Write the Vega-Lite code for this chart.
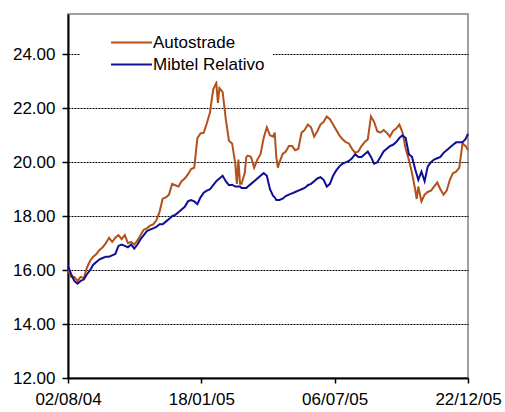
{
  "$schema": "https://vega.github.io/schema/vega-lite/v6.json",
  "width": 400,
  "height": 364,
  "autosize": {"type": "none"},
  "padding": {"left": 68, "top": 14, "right": 37, "bottom": 34},
  "config": {
    "view": {"stroke": "#a0a0a0", "strokeWidth": 2},
    "font": "Liberation Sans"
  },
  "data": {
    "values": [
      {"date": "2004/08/02", "Autostrade": 16.0, "Mibtel Relativo": 16.15},
      {"date": "2004/08/06", "Autostrade": 15.75, "Mibtel Relativo": 15.85},
      {"date": "2004/08/10", "Autostrade": 15.75, "Mibtel Relativo": 15.6},
      {"date": "2004/08/14", "Autostrade": 15.6, "Mibtel Relativo": 15.5},
      {"date": "2004/08/18", "Autostrade": 15.75, "Mibtel Relativo": 15.6},
      {"date": "2004/08/22", "Autostrade": 15.7, "Mibtel Relativo": 15.65},
      {"date": "2004/08/26", "Autostrade": 16.1, "Mibtel Relativo": 15.85},
      {"date": "2004/08/30", "Autostrade": 16.35, "Mibtel Relativo": 16.0},
      {"date": "2004/09/03", "Autostrade": 16.5, "Mibtel Relativo": 16.2},
      {"date": "2004/09/07", "Autostrade": 16.6, "Mibtel Relativo": 16.3},
      {"date": "2004/09/11", "Autostrade": 16.75, "Mibtel Relativo": 16.4},
      {"date": "2004/09/15", "Autostrade": 16.85, "Mibtel Relativo": 16.45},
      {"date": "2004/09/19", "Autostrade": 17.0, "Mibtel Relativo": 16.5},
      {"date": "2004/09/23", "Autostrade": 17.2, "Mibtel Relativo": 16.5},
      {"date": "2004/09/27", "Autostrade": 17.05, "Mibtel Relativo": 16.55},
      {"date": "2004/10/01", "Autostrade": 17.2, "Mibtel Relativo": 16.6},
      {"date": "2004/10/05", "Autostrade": 17.3, "Mibtel Relativo": 16.9},
      {"date": "2004/10/09", "Autostrade": 17.15, "Mibtel Relativo": 16.95},
      {"date": "2004/10/13", "Autostrade": 17.3, "Mibtel Relativo": 16.9},
      {"date": "2004/10/17", "Autostrade": 17.0, "Mibtel Relativo": 16.85},
      {"date": "2004/10/21", "Autostrade": 17.05, "Mibtel Relativo": 16.95},
      {"date": "2004/10/25", "Autostrade": 16.95, "Mibtel Relativo": 16.8},
      {"date": "2004/10/29", "Autostrade": 17.1, "Mibtel Relativo": 16.95},
      {"date": "2004/11/02", "Autostrade": 17.3, "Mibtel Relativo": 17.15},
      {"date": "2004/11/06", "Autostrade": 17.5, "Mibtel Relativo": 17.3},
      {"date": "2004/11/10", "Autostrade": 17.55, "Mibtel Relativo": 17.45},
      {"date": "2004/11/14", "Autostrade": 17.65, "Mibtel Relativo": 17.5},
      {"date": "2004/11/18", "Autostrade": 17.7, "Mibtel Relativo": 17.55},
      {"date": "2004/11/22", "Autostrade": 17.85, "Mibtel Relativo": 17.6},
      {"date": "2004/11/26", "Autostrade": 18.15, "Mibtel Relativo": 17.7},
      {"date": "2004/11/30", "Autostrade": 18.65, "Mibtel Relativo": 17.7},
      {"date": "2004/12/04", "Autostrade": 18.7, "Mibtel Relativo": 17.8},
      {"date": "2004/12/08", "Autostrade": 18.8, "Mibtel Relativo": 17.9},
      {"date": "2004/12/12", "Autostrade": 19.2, "Mibtel Relativo": 18.0},
      {"date": "2004/12/16", "Autostrade": 19.15, "Mibtel Relativo": 18.05},
      {"date": "2004/12/20", "Autostrade": 19.1, "Mibtel Relativo": 18.15},
      {"date": "2004/12/24", "Autostrade": 19.3, "Mibtel Relativo": 18.25},
      {"date": "2004/12/28", "Autostrade": 19.4, "Mibtel Relativo": 18.35},
      {"date": "2005/01/01", "Autostrade": 19.55, "Mibtel Relativo": 18.55},
      {"date": "2005/01/05", "Autostrade": 19.75, "Mibtel Relativo": 18.6},
      {"date": "2005/01/09", "Autostrade": 19.8, "Mibtel Relativo": 18.55},
      {"date": "2005/01/13", "Autostrade": 20.9, "Mibtel Relativo": 18.45},
      {"date": "2005/01/17", "Autostrade": 21.07, "Mibtel Relativo": 18.7},
      {"date": "2005/01/21", "Autostrade": 21.1, "Mibtel Relativo": 18.87},
      {"date": "2005/01/25", "Autostrade": 21.45, "Mibtel Relativo": 18.95},
      {"date": "2005/01/29", "Autostrade": 21.85, "Mibtel Relativo": 19.0},
      {"date": "2005/02/02", "Autostrade": 22.7, "Mibtel Relativo": 19.15},
      {"date": "2005/02/06", "Autostrade": 22.95, "Mibtel Relativo": 19.3},
      {"date": "2005/02/08", "Autostrade": 22.2, "Mibtel Relativo": 19.35},
      {"date": "2005/02/10", "Autostrade": 22.75, "Mibtel Relativo": 19.4},
      {"date": "2005/02/14", "Autostrade": 22.6, "Mibtel Relativo": 19.5},
      {"date": "2005/02/18", "Autostrade": 21.6, "Mibtel Relativo": 19.3},
      {"date": "2005/02/22", "Autostrade": 20.8, "Mibtel Relativo": 19.15},
      {"date": "2005/02/26", "Autostrade": 20.7, "Mibtel Relativo": 19.17},
      {"date": "2005/03/02", "Autostrade": 19.95, "Mibtel Relativo": 19.1},
      {"date": "2005/03/04", "Autostrade": 19.2, "Mibtel Relativo": 19.1},
      {"date": "2005/03/06", "Autostrade": 20.1, "Mibtel Relativo": 19.1},
      {"date": "2005/03/08", "Autostrade": 19.2, "Mibtel Relativo": 19.1},
      {"date": "2005/03/10", "Autostrade": 19.2, "Mibtel Relativo": 19.05},
      {"date": "2005/03/14", "Autostrade": 19.6, "Mibtel Relativo": 19.05},
      {"date": "2005/03/16", "Autostrade": 20.2, "Mibtel Relativo": 19.05},
      {"date": "2005/03/18", "Autostrade": 20.25, "Mibtel Relativo": 19.1},
      {"date": "2005/03/22", "Autostrade": 20.2, "Mibtel Relativo": 19.2},
      {"date": "2005/03/26", "Autostrade": 19.8, "Mibtel Relativo": 19.3},
      {"date": "2005/03/30", "Autostrade": 20.1, "Mibtel Relativo": 19.4},
      {"date": "2005/04/03", "Autostrade": 20.3, "Mibtel Relativo": 19.5},
      {"date": "2005/04/07", "Autostrade": 20.9, "Mibtel Relativo": 19.6},
      {"date": "2005/04/11", "Autostrade": 21.3, "Mibtel Relativo": 19.5},
      {"date": "2005/04/15", "Autostrade": 21.0, "Mibtel Relativo": 19.0},
      {"date": "2005/04/19", "Autostrade": 20.95, "Mibtel Relativo": 18.75},
      {"date": "2005/04/21", "Autostrade": 21.1, "Mibtel Relativo": 18.7},
      {"date": "2005/04/23", "Autostrade": 20.2, "Mibtel Relativo": 18.6},
      {"date": "2005/04/25", "Autostrade": 19.8, "Mibtel Relativo": 18.6},
      {"date": "2005/04/27", "Autostrade": 20.0, "Mibtel Relativo": 18.6},
      {"date": "2005/05/01", "Autostrade": 20.3, "Mibtel Relativo": 18.65},
      {"date": "2005/05/05", "Autostrade": 20.4, "Mibtel Relativo": 18.75},
      {"date": "2005/05/09", "Autostrade": 20.6, "Mibtel Relativo": 18.8},
      {"date": "2005/05/13", "Autostrade": 20.6, "Mibtel Relativo": 18.85},
      {"date": "2005/05/17", "Autostrade": 20.45, "Mibtel Relativo": 18.9},
      {"date": "2005/05/21", "Autostrade": 20.5, "Mibtel Relativo": 18.95},
      {"date": "2005/05/25", "Autostrade": 21.1, "Mibtel Relativo": 19.0},
      {"date": "2005/05/29", "Autostrade": 21.2, "Mibtel Relativo": 19.05},
      {"date": "2005/06/02", "Autostrade": 21.4, "Mibtel Relativo": 19.15},
      {"date": "2005/06/06", "Autostrade": 21.3, "Mibtel Relativo": 19.2},
      {"date": "2005/06/10", "Autostrade": 20.95, "Mibtel Relativo": 19.3},
      {"date": "2005/06/14", "Autostrade": 21.15, "Mibtel Relativo": 19.4},
      {"date": "2005/06/18", "Autostrade": 21.4, "Mibtel Relativo": 19.45},
      {"date": "2005/06/22", "Autostrade": 21.5, "Mibtel Relativo": 19.35},
      {"date": "2005/06/26", "Autostrade": 21.7, "Mibtel Relativo": 19.1},
      {"date": "2005/06/30", "Autostrade": 21.6, "Mibtel Relativo": 19.2},
      {"date": "2005/07/04", "Autostrade": 21.4, "Mibtel Relativo": 19.5},
      {"date": "2005/07/08", "Autostrade": 21.2, "Mibtel Relativo": 19.7},
      {"date": "2005/07/12", "Autostrade": 21.0, "Mibtel Relativo": 19.85},
      {"date": "2005/07/16", "Autostrade": 20.85, "Mibtel Relativo": 19.95},
      {"date": "2005/07/20", "Autostrade": 20.75, "Mibtel Relativo": 20.0},
      {"date": "2005/07/24", "Autostrade": 20.7, "Mibtel Relativo": 20.05},
      {"date": "2005/07/28", "Autostrade": 20.5, "Mibtel Relativo": 20.15},
      {"date": "2005/08/01", "Autostrade": 20.35, "Mibtel Relativo": 20.3},
      {"date": "2005/08/05", "Autostrade": 20.4, "Mibtel Relativo": 20.2},
      {"date": "2005/08/09", "Autostrade": 20.6, "Mibtel Relativo": 20.2},
      {"date": "2005/08/13", "Autostrade": 20.75, "Mibtel Relativo": 20.3},
      {"date": "2005/08/17", "Autostrade": 20.85, "Mibtel Relativo": 20.4},
      {"date": "2005/08/21", "Autostrade": 21.7, "Mibtel Relativo": 20.2},
      {"date": "2005/08/25", "Autostrade": 21.5, "Mibtel Relativo": 19.95},
      {"date": "2005/08/29", "Autostrade": 21.15, "Mibtel Relativo": 20.0},
      {"date": "2005/09/02", "Autostrade": 21.1, "Mibtel Relativo": 20.2},
      {"date": "2005/09/06", "Autostrade": 21.2, "Mibtel Relativo": 20.4},
      {"date": "2005/09/10", "Autostrade": 21.1, "Mibtel Relativo": 20.5},
      {"date": "2005/09/14", "Autostrade": 20.95, "Mibtel Relativo": 20.6},
      {"date": "2005/09/18", "Autostrade": 21.16, "Mibtel Relativo": 20.65},
      {"date": "2005/09/22", "Autostrade": 21.25, "Mibtel Relativo": 20.75},
      {"date": "2005/09/26", "Autostrade": 21.4, "Mibtel Relativo": 20.9},
      {"date": "2005/09/30", "Autostrade": 21.1, "Mibtel Relativo": 21.0},
      {"date": "2005/10/04", "Autostrade": 20.5, "Mibtel Relativo": 20.9},
      {"date": "2005/10/08", "Autostrade": 20.1, "Mibtel Relativo": 20.3},
      {"date": "2005/10/12", "Autostrade": 19.6, "Mibtel Relativo": 20.2},
      {"date": "2005/10/16", "Autostrade": 19.0, "Mibtel Relativo": 19.75},
      {"date": "2005/10/18", "Autostrade": 18.64, "Mibtel Relativo": 19.55},
      {"date": "2005/10/20", "Autostrade": 19.1, "Mibtel Relativo": 19.35},
      {"date": "2005/10/24", "Autostrade": 18.55, "Mibtel Relativo": 19.65},
      {"date": "2005/10/28", "Autostrade": 18.8, "Mibtel Relativo": 19.3},
      {"date": "2005/11/01", "Autostrade": 18.9, "Mibtel Relativo": 19.85},
      {"date": "2005/11/05", "Autostrade": 18.95, "Mibtel Relativo": 20.0},
      {"date": "2005/11/09", "Autostrade": 19.1, "Mibtel Relativo": 20.1},
      {"date": "2005/11/13", "Autostrade": 19.25, "Mibtel Relativo": 20.15},
      {"date": "2005/11/17", "Autostrade": 19.0, "Mibtel Relativo": 20.2},
      {"date": "2005/11/21", "Autostrade": 18.8, "Mibtel Relativo": 20.35},
      {"date": "2005/11/25", "Autostrade": 18.95, "Mibtel Relativo": 20.45},
      {"date": "2005/11/29", "Autostrade": 19.35, "Mibtel Relativo": 20.55},
      {"date": "2005/12/03", "Autostrade": 19.6, "Mibtel Relativo": 20.65},
      {"date": "2005/12/07", "Autostrade": 19.65, "Mibtel Relativo": 20.74},
      {"date": "2005/12/11", "Autostrade": 19.8, "Mibtel Relativo": 20.74},
      {"date": "2005/12/15", "Autostrade": 20.7, "Mibtel Relativo": 20.74},
      {"date": "2005/12/19", "Autostrade": 20.6, "Mibtel Relativo": 20.87},
      {"date": "2005/12/22", "Autostrade": 20.45, "Mibtel Relativo": 21.06}
    ]
  },
  "transform": [{"fold": ["Autostrade", "Mibtel Relativo"], "as": ["serie", "valore"]}],
  "mark": {"type": "line", "strokeWidth": 2},
  "encoding": {
    "x": {
      "field": "date",
      "type": "temporal",
      "scale": {"domain": [{"year": 2004, "month": 8, "date": 2}, {"year": 2005, "month": 12, "date": 22}]},
      "axis": {
        "values": [
          {"year": 2004, "month": 8, "date": 2},
          {"year": 2005, "month": 1, "date": 18},
          {"year": 2005, "month": 7, "date": 6},
          {"year": 2005, "month": 12, "date": 22}
        ],
        "format": "%d/%m/%y",
        "title": null,
        "grid": false,
        "domainColor": "#000",
        "domainWidth": 2,
        "tickColor": "#000",
        "tickSize": 5,
        "tickWidth": 1.5,
        "labelFontSize": 17,
        "labelColor": "#000",
        "labelPadding": 8,
        "labelFlush": false,
        "labelOverlap": false
      }
    },
    "y": {
      "field": "valore",
      "type": "quantitative",
      "scale": {"domain": [12, 25.5], "nice": false, "zero": false},
      "axis": {
        "values": [12, 14, 16, 18, 20, 22, 24],
        "format": ".2f",
        "title": null,
        "grid": true,
        "gridColor": "#000",
        "gridDash": [2, 1],
        "gridWidth": 1,
        "domainColor": "#000",
        "domainWidth": 2,
        "tickColor": "#000",
        "tickSize": 6,
        "tickWidth": 1.5,
        "labelFontSize": 17,
        "labelColor": "#000",
        "labelPadding": 7
      }
    },
    "color": {
      "field": "serie",
      "type": "nominal",
      "scale": {"domain": ["Autostrade", "Mibtel Relativo"], "range": ["#B4501A", "#0F0F96"]},
      "legend": {
        "orient": "none",
        "legendX": 12,
        "legendY": 12,
        "title": null,
        "fillColor": "white",
        "padding": 8,
        "symbolType": "M-5,0H5",
        "symbolSize": 67,
        "symbolStrokeWidth": 2,
        "symbolOffset": 35,
        "labelOffset": 13,
        "labelFontSize": 17,
        "labelColor": "#000",
        "rowPadding": 4
      }
    }
  }
}
